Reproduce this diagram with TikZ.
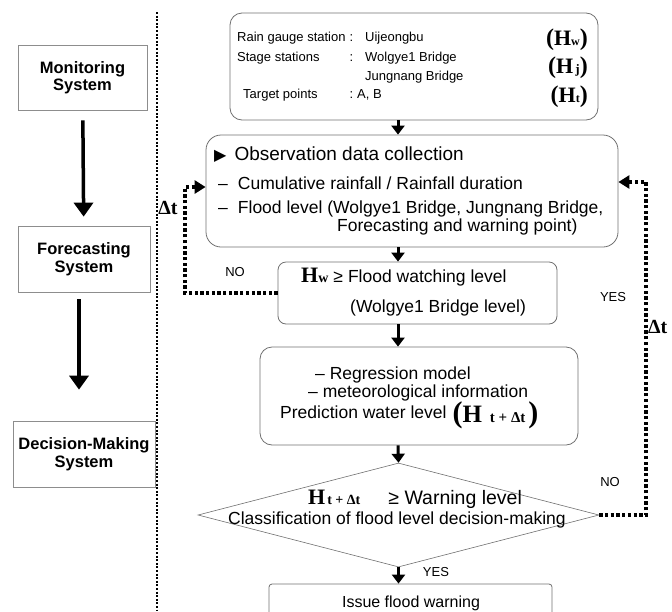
\documentclass[tikz,border=0pt]{standalone}
\usepackage{fontspec}
\setmainfont{Liberation Sans}
\newfontfamily\serfont{Liberation Serif}
\newfontfamily\symfont{DejaVu Sans}
\usetikzlibrary{shapes.geometric,arrows.meta,positioning}
\definecolor{linegray}{HTML}{707070}
\newcommand{\fs}[1]{\fontsize{#1}{#1}\selectfont}
\newcommand{\Hexp}[3]{{\serfont\bfseries\fs{#1}H\fs{#2}#3}}
\tikzset
{
    sysbox/.style   = {rectangle, draw=linegray!80, line width=0.7pt, align=center, font=\fontsize{16.5}{17.5}\selectfont\bfseries},
    stepbox/.style  = {rectangle, rounded corners=12pt, draw=linegray, line width=0.8pt, inner sep=0pt},
    decision/.style = {diamond, draw=linegray, line width=0.6pt, inner sep=0pt},
    txt/.style      = {anchor=base west, inner sep=0pt},
    htxt/.style     = {anchor=base east, inner sep=0pt, font=\serfont\bfseries\fs{24}},
    yesno/.style    = {inner sep=0pt, font=\fs{13}},
    dtlabel/.style  = {inner sep=0pt, font=\serfont\bfseries\fs{20}},
    arrow/.style    = {line width=3pt, -{Triangle[width=13pt,length=9pt]}},
    sysarrow/.style = {line width=3.5pt, -{Triangle[width=19pt,length=14pt]}},
    feedback/.style = {line width=3.3pt, dash pattern=on 3.3pt off 2.4pt, -{Triangle[width=13pt,length=11pt]}},
    sepline/.style  = {line width=2pt, dash pattern=on 2pt off 1.6pt}
}
\begin{document}
\begin{tikzpicture}[x=1pt, y=-1pt]
	\useasboundingbox (0,0) rectangle (672,611);
	\clip (0,0) rectangle (672,611);

	% system column
	\node (mon) [sysbox, minimum width=129pt, minimum height=65pt] at (82.5,77.5) {Monitoring\\System};
	\node (fore) [sysbox, minimum width=132pt, minimum height=66pt] at (84,259) {Forecasting\\System};
	\node (dec) [sysbox, minimum width=142pt, minimum height=66pt] at (84,454) {Decision-Making\\System};
	\draw [sysarrow, shorten <=10pt, shorten >=9pt] (mon) -- (fore);
	\draw [sysarrow, shorten <=7pt, shorten >=31pt] ([xshift=-5pt]fore.south) -- ([xshift=-5pt]dec.north);
	\draw [sepline] (157,12) -- (157,611);

	% flow boxes
	\node (src) [stepbox, minimum width=368pt, minimum height=107pt] at (414,66.5) {};
	\node (obs) [stepbox, rounded corners=15pt, minimum width=412pt, minimum height=112pt] at (412,191) {};
	\node (watch) [stepbox, rounded corners=8pt, minimum width=279pt, minimum height=62pt] at (417.5,293) {};
	\node (pred) [stepbox, minimum width=318pt, minimum height=98pt] at (419,396) {};
	\node (warn) [decision, minimum width=401pt, minimum height=104pt] at (398.5,515) {};
	\node (issue) [stepbox, rounded corners=3pt, minimum width=283pt, minimum height=44pt] at (410.5,606) {};

	% texts
	\node (rain) [txt, font=\fs{13}] at (237,41) {\makebox[116pt][l]{Rain gauge station\hfill:}\hspace{12pt}Uijeongbu};
	\node (stage) [txt, font=\fs{13}] at (237,61) {\makebox[116pt][l]{Stage stations\hfill:}\hspace{12pt}Wolgye1 Bridge};
	\node (stage2) [txt, font=\fs{13}] at (365,80) {Jungnang Bridge};
	\node (target) [txt, font=\fs{13}] at (243,98) {\makebox[110pt][l]{Target points\hfill:}\hspace{4pt}A, B};
	\node (hw) [htxt] at (588,45) {(\Hexp{22}{12}{w})};
	\node (hj) [htxt] at (588,73) {(\Hexp{22}{13}{\,j})};
	\node (ht) [htxt] at (588,102) {(\Hexp{22}{12}{t})};

	\node (obs1) [txt, font=\fs{19}] at (214,160) {{\symfont\fs{16}▶}\hspace{8pt}Observation data collection};
	\node (obs2) [txt, font=\fs{17.5}] at (218,189) {–\hspace{10pt}Cumulative rainfall / Rainfall duration};
	\node (obs3) [txt, font=\fs{17.5}] at (218,213) {–\hspace{10pt}Flood level (Wolgye1 Bridge, Jungnang Bridge,};
	\node (obs4) [txt, font=\fs{17.5}] at (337,231) {Forecasting and warning point)};

	\node (watch1) [txt, font=\fs{17.5}] at (301,282) {\Hexp{22}{14}{w}\hspace{5pt}≥\hspace{5pt}Flood watching level};
	\node (watch2) [txt, font=\fs{17.5}] at (350,312) {(Wolgye1 Bridge level)};

	\node (pred1) [txt, font=\fs{17.5}] at (315,379) {– Regression model};
	\node (pred2) [txt, font=\fs{17.5}] at (308,397) {– meteorological information};
	\node (pred3) [txt, font=\fs{17.5}] at (280,418) {Prediction water level\hspace{6pt}\raisebox{-4pt}{\serfont\bfseries\fs{30}(\Hexp{25}{15}{\hspace{8pt}t + Δt\hspace{3pt}})}};

	\node (warn1) [txt, font=\fs{19.5}] at (308,504) {\Hexp{22}{14}{\hspace{2pt}t + Δt}\hspace{28pt}≥ Warning level};
	\node (warn2) [txt, font=\fs{17.5}] at (228,524) {Classification of flood level decision-making};

	\node (issue1) [anchor=base, inner sep=0pt, font=\fs{16}] at (411,607) {Issue flood warning};

	% main flow
	\coordinate (axis) at (398,0);
	\draw [arrow] (src.south -| axis) -- (obs.north -| axis);
	\draw [arrow] (obs.south -| axis) -- (watch.north -| axis);
	\draw [arrow] (watch.south -| axis) -- (pred.north -| axis);
	\draw [arrow] (pred.south -| axis) -- (warn.north);
	\draw [arrow] (warn.south) -- (issue.north -| warn.south);

	% feedback loops
	\coordinate (lbend) at (185,0);
	\coordinate (rbend) at (646,0);
	\draw [feedback] (watch.west) -| ([yshift=4pt]obs.west -| lbend) -- ([yshift=4pt]obs.west);
	\draw [feedback] (warn.east) -| ([yshift=9pt]obs.east -| rbend) -- ([yshift=9pt]obs.east);

	\node (no1) [yesno] at (235,272) {NO};
	\node (yes1) [yesno] at (613,297) {YES};
	\node (no2) [yesno] at (610,482) {NO};
	\node (yes2) [yesno] at (436,572) {YES};
	\node (dt1) [dtlabel] at (168,208) {Δt};
	\node (dt2) [dtlabel, anchor=west] at (648,327) {Δt};
	\end{tikzpicture}
\end{document}
